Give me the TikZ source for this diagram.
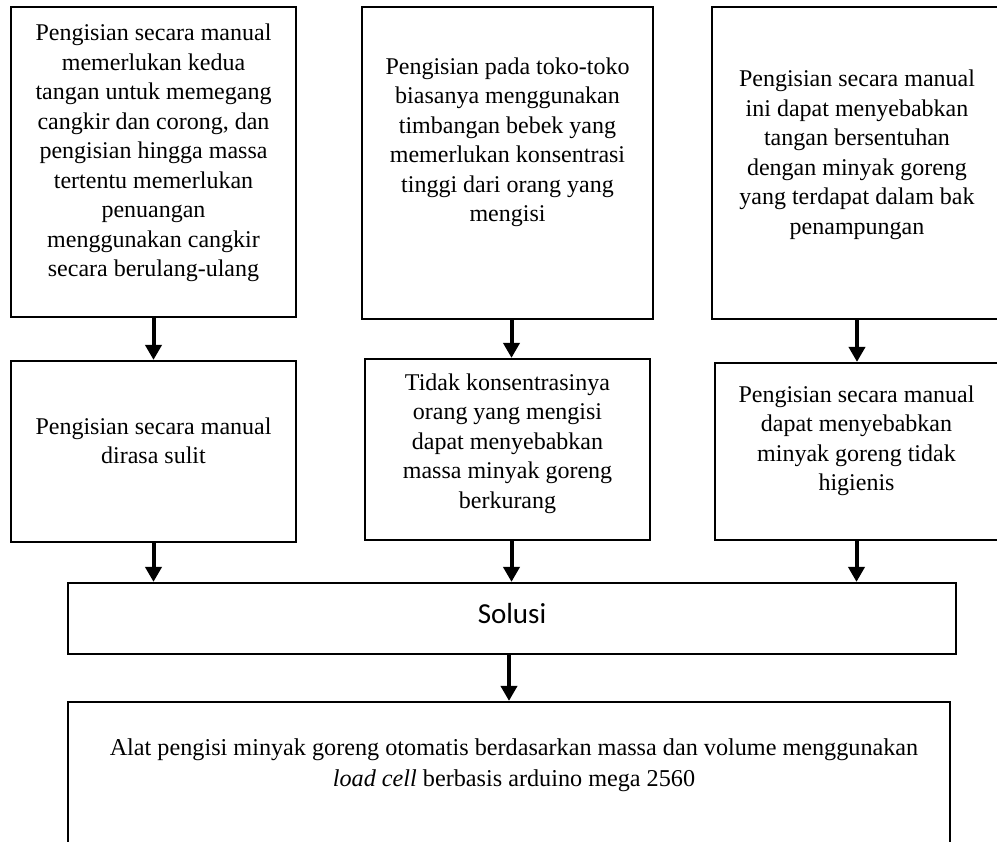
\documentclass[tikz,border=0pt]{standalone}
\usepackage{fontspec}
\setmainfont{Liberation Serif}
\newfontfamily\calibrifont{Carlito}
\usetikzlibrary{arrows.meta}

\begin{document}
\begin{tikzpicture}[x=1pt,y=-1pt,
  box/.style={draw=black, line width=2.2pt, rectangle, inner sep=0pt, fill=white},
  txt/.style={align=center, inner sep=0pt, font=\fontsize{24}{29.5}\selectfont},
  arr/.style={draw=black, line width=4pt, -{Triangle[width=16pt,length=15pt]}}
]
\useasboundingbox (0,0) rectangle (997,842);
\clip (0,0) rectangle (997,842);

% top row: problems
\node[box, minimum width=285pt, minimum height=310pt] (b1) at (153.5,162) {};
\node[box, minimum width=291pt, minimum height=312pt] (b2) at (507.5,163) {};
\node[box, minimum width=290pt, minimum height=312pt] (b3) at (857,163) {};

\node[txt] (t1) at (153.5,153) {Pengisian secara manual\\memerlukan kedua\\tangan untuk memegang\\cangkir dan corong, dan\\pengisian hingga massa\\tertentu memerlukan\\penuangan\\menggunakan cangkir\\secara berulang-ulang};
\node[txt] (t2) at (507.5,142.5) {Pengisian pada toko-toko\\biasanya menggunakan\\timbangan bebek yang\\memerlukan konsentrasi\\tinggi dari orang yang\\mengisi};
\node[txt] (t3) at (857,155) {Pengisian secara manual\\ini dapat menyebabkan\\tangan bersentuhan\\dengan minyak goreng\\yang terdapat dalam bak\\penampungan};

% middle row: consequences
\node[box, minimum width=285pt, minimum height=181pt] (b4) at (153.5,451.5) {};
\node[box, minimum width=285pt, minimum height=181pt] (b5) at (507.5,449.5) {};
\node[box, minimum width=283pt, minimum height=177pt] (b6) at (856.5,451.5) {};

\node[txt] (t4) at (153.5,441) {Pengisian secara manual\\dirasa sulit};
\node[txt] (t5) at (507.5,443.5) {Tidak konsentrasinya\\orang yang mengisi\\dapat menyebabkan\\massa minyak goreng\\berkurang};
\node[txt] (t6) at (856.5,441) {Pengisian secara manual\\dapat menyebabkan\\minyak goreng tidak\\higienis};

% solution
\node[box, minimum width=888pt, minimum height=71pt] (sol) at (512,618.5) {};
\node[inner sep=0pt, font=\calibrifont\fontsize{29}{34}\selectfont] (tsol) at (512,614) {Solusi};

% result
\node[box, minimum width=882pt, minimum height=168pt] (res) at (509,786) {};
\node[txt, font=\fontsize{24.2}{31}\selectfont] (tres) at (514,765) {Alat pengisi minyak goreng otomatis berdasarkan massa dan volume menggunakan\\\textit{load cell} berbasis arduino mega 2560};

% connectors
\draw[arr] (b1.south) -- (b4.north);
\draw[arr] ([xshift=4pt]b2.south) -- ([xshift=4pt]b2.south |- b5.north);
\draw[arr] (b3.south) -- (b3.south |- b6.north);
\draw[arr] (b4.south) -- (b4.south |- sol.north);
\draw[arr] ([xshift=4pt]b5.south) -- ([xshift=4pt]b5.south |- sol.north);
\draw[arr] (b6.south) -- (b6.south |- sol.north);
\draw[arr] ([xshift=-3pt]sol.south) -- ([xshift=-3pt]sol.south |- res.north);
\end{tikzpicture}
\end{document}
